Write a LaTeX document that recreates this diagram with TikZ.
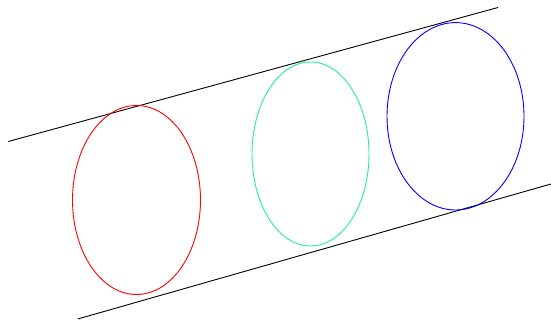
\documentclass[tikz,border=0pt]{standalone}
\usepackage{xcolor}
\definecolor{springgreen}{RGB}{30,245,140}
\begin{document}
\begin{tikzpicture}[x=1pt,y=-1pt,line width=0.9pt]
  \useasboundingbox (0,0) rectangle (551,324);
  % the two parallel lines
  \coordinate (upA) at (8.3,141.5);
  \coordinate (upB) at (498,7.5);
  \coordinate (loA) at (77.7,319);
  \coordinate (loB) at (551,184);
  \draw[black] (upA) -- (upB);
  \draw[black] (loA) -- (loB);
  % three ellipses
  \draw[red] (136.5,200) ellipse (64 and 94.5);
  \draw[springgreen] (310.5,154) ellipse (58.5 and 92);
  \draw[blue] (455.5,116.3) ellipse (68.5 and 93.7);
\end{tikzpicture}
\end{document}
